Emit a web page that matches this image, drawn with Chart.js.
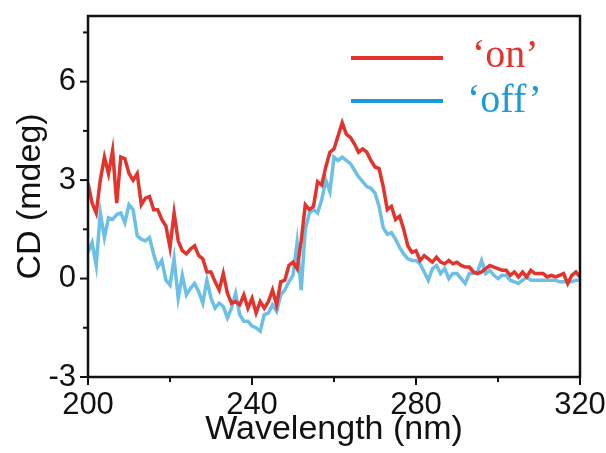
<!DOCTYPE html>
<html>
<head>
<meta charset="utf-8">
<script src="https://cdn.jsdelivr.net/npm/chart.js@4.4.0/dist/chart.umd.min.js"></script>
<style>
  html, body { margin: 0; padding: 0; background: #fff; }
  #wrap { width: 606px; height: 453px; }
</style>
</head>
<body>
<div id="wrap"><canvas id="cdChart" width="606" height="453"></canvas></div>
<script>
// wavelength 200..320 nm, 1 nm step
const wavelength = [];
for (let w = 200; w <= 320; w++) wavelength.push(w);

const cdOn = [
  2.9, 2.3, 2.0, 3.0, 3.7, 3.2, 3.9, 2.3, 3.7, 3.65,
  3.2, 3.0, 3.2, 2.25, 2.45, 2.5, 2.1, 2.1, 1.8, 1.6,
  0.95, 2.0, 1.15, 0.85, 0.75, 0.9, 1.0, 0.7, 0.6, 0.2,
  0.2, -0.1, -0.35, 0.15, -0.45, -0.75, -0.7, -0.8, -0.5, -0.9,
  -0.6, -1.05, -0.7, -0.9, -0.7, -0.35, -0.8, -0.1, -0.05, 0.4,
  0.5, 0.3, 1.15, 2.25, 2.1, 2.2, 2.95, 2.85, 3.4, 3.85,
  3.95, 4.35, 4.75, 4.4, 4.3, 4.1, 3.85, 3.95, 3.85, 3.6,
  3.4, 3.35, 2.8, 2.1, 2.2, 1.8, 1.9, 1.5, 1.0, 0.8,
  0.85, 0.55, 0.7, 0.6, 0.5, 0.65, 0.5, 0.45, 0.55, 0.45,
  0.5, 0.4, 0.35, 0.35, 0.2, 0.15, 0.2, 0.3, 0.4, 0.35,
  0.3, 0.25, 0.25, 0.1, 0.2, 0.05, 0.2, 0.05, 0.25, 0.15,
  0.15, 0.15, 0.05, 0.1, 0.05, 0.1, 0.15, -0.15, 0.1, 0.2,
  0.05
];

const cdOff = [
  0.8, 1.1, 0.4, 2.0, 1.25, 1.85, 1.8, 1.95, 2.0, 1.7,
  2.25, 2.1, 1.3, 1.2, 1.15, 1.25, 0.75, 0.35, 0.55, -0.05,
  -0.2, 0.6, -0.6, 0.1, -0.5, -0.3, -0.15, -0.4, -0.75, -0.05,
  -0.6, -0.9, -0.75, -0.85, -1.2, -0.9, -0.45, -1.1, -1.3, -1.3,
  -1.45, -1.5, -1.6, -1.1, -1.05, -0.8, -1.0, -0.5, -0.35, -0.1,
  0.1, 1.1, -0.35, 1.5, 2.0, 2.1, 2.0, 2.4, 3.0, 2.65,
  3.7, 3.6, 3.7, 3.6, 3.5, 3.3, 3.1, 2.95, 2.8, 2.75,
  2.6, 2.2, 1.55, 1.35, 1.4, 1.2, 0.95, 0.75, 0.6, 0.55,
  0.55, 0.45, 0.2, -0.05, 0.3, 0.4, 0.15, 0.3, 0.0, 0.15,
  0.15, 0.0, -0.15, 0.15, 0.15, 0.2, 0.55, 0.15, 0.25, 0.1,
  0.0, 0.1, 0.1, -0.05, -0.1, -0.15, -0.05, 0.05, -0.05, -0.05,
  -0.05, -0.05, -0.05, -0.05, -0.05, -0.1, -0.1, -0.1, -0.1, -0.05,
  -0.05
];

const seriesNames = ['\u2018on\u2019', '\u2018off\u2019'];
const xTicks = [200, 240, 280, 320];
const xMinor = [220, 260, 300];
const yTicks = [-3, 0, 3, 6];
const yMinor = [-1.5, 1.5, 4.5, 7.5];

const RED = '#e2332c';
const BLUE = '#6cbfe6';
const BLUE_DARK = '#1a9ad6';
const FONT = '"Liberation Sans", Arial, sans-serif';

const toPts = (ys) => ys.map((v, i) => ({ x: wavelength[i], y: v }));

// frame, tick marks and the legend
const framePlugin = {
  id: 'frame',
  afterDraw(chart) {
    const { ctx, chartArea: a, scales } = chart;
    ctx.save();
    ctx.strokeStyle = '#111';
    ctx.lineWidth = 2.5;
    ctx.strokeRect(a.left, a.top, a.right - a.left, a.bottom - a.top);
    ctx.lineWidth = 2;
    xTicks.concat(xMinor).forEach(v => {
      const px = scales.x.getPixelForValue(v);
      const len = xTicks.includes(v) ? 8 : 5;
      ctx.beginPath(); ctx.moveTo(px, a.bottom); ctx.lineTo(px, a.bottom + len); ctx.stroke();
    });
    yTicks.concat(yMinor).forEach(v => {
      const py = scales.y.getPixelForValue(v);
      const len = yTicks.includes(v) ? 8 : 5;
      ctx.beginPath(); ctx.moveTo(a.left, py); ctx.lineTo(a.left - len, py); ctx.stroke();
    });
    // legend
    const rows = [
      { ly: 58, color: RED, label: seriesNames[0], tx: 472, ty: 67 },
      { ly: 101, color: BLUE_DARK, label: seriesNames[1], tx: 467, ty: 112 }
    ];
    ctx.font = '40px "Liberation Serif", "Times New Roman", serif';
    ctx.textBaseline = 'alphabetic';
    rows.forEach(r => {
      ctx.strokeStyle = r.color;
      ctx.lineWidth = 4;
      ctx.beginPath(); ctx.moveTo(351, r.ly); ctx.lineTo(443, r.ly); ctx.stroke();
      ctx.fillStyle = r.color;
      ctx.fillText(r.label, r.tx, r.ty);
    });
    ctx.restore();
  }
};

const ctx = document.getElementById('cdChart').getContext('2d');

const cdChart = new Chart(ctx, {
  type: 'line',
  data: {
    datasets: [
      {
        label: seriesNames[0],
        data: toPts(cdOn),
        borderColor: RED,
        borderWidth: 3.5,
        pointRadius: 0,
        tension: 0
      },
      {
        label: seriesNames[1],
        data: toPts(cdOff),
        borderColor: BLUE,
        borderWidth: 3.5,
        pointRadius: 0,
        tension: 0
      }
    ]
  },
  options: {
    responsive: false,
    animation: false,
    layout: { padding: { top: 16, right: 26, bottom: 0, left: 14 } },
    plugins: { legend: { display: false }, tooltip: { enabled: false } },
    scales: {
      x: {
        type: 'linear',
        min: 200,
        max: 320,
        afterBuildTicks: (s) => { s.ticks = xTicks.map(v => ({ value: v })); },
        afterFit: (s) => { s.paddingLeft = 0; s.paddingRight = 0; s.height = 76; },
        grid: { display: false, drawTicks: false },
        border: { display: false },
        ticks: {
          padding: 13,
          color: '#111',
          maxRotation: 0,
          font: { family: FONT, size: 31, lineHeight: 1.0 }
        },
        title: {
          display: true,
          text: 'Wavelength (nm)',
          color: '#111',
          padding: { top: 0, bottom: 6 },
          font: { family: FONT, size: 34, lineHeight: 1.0 }
        }
      },
      y: {
        min: -3,
        max: 8,
        afterBuildTicks: (s) => { s.ticks = yTicks.map(v => ({ value: v })); },
        afterFit: (s) => { s.paddingTop = 0; s.paddingBottom = 0; s.width = 74; },
        grid: { display: false, drawTicks: false },
        border: { display: false },
        ticks: {
          padding: 12,
          color: '#111',
          font: { family: FONT, size: 31, lineHeight: 1.0 }
        },
        title: {
          display: true,
          text: 'CD (mdeg)',
          color: '#111',
          padding: { top: 0, bottom: 0 },
          font: { family: FONT, size: 34, lineHeight: 1.0 }
        }
      }
    }
  },
  plugins: [framePlugin]
});
</script>
</body>
</html>
